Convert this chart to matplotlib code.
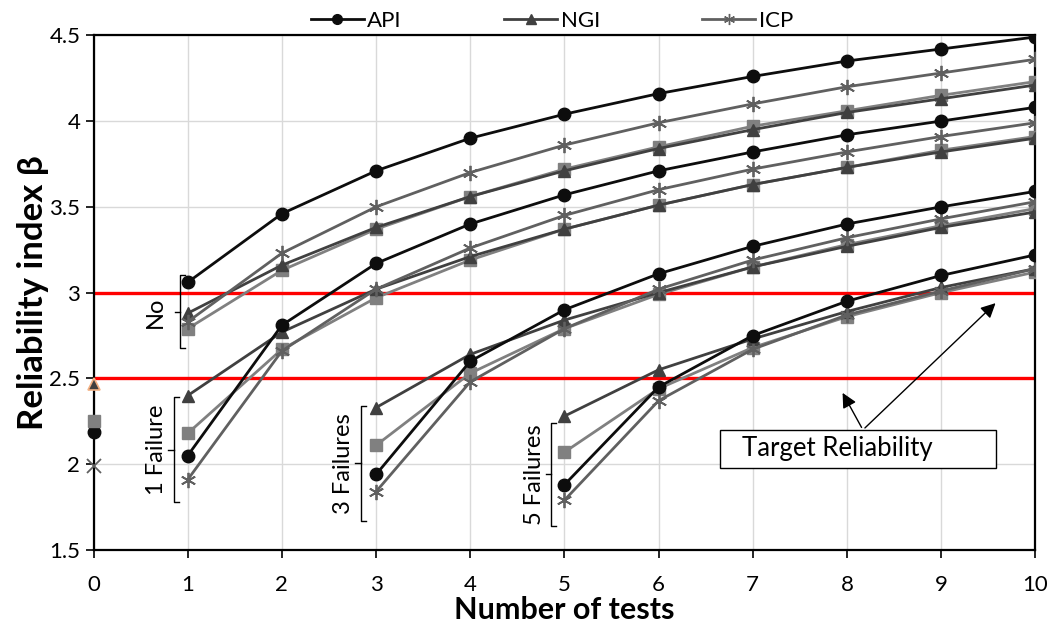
import numpy as np
import matplotlib
matplotlib.use('Agg')
import matplotlib.pyplot as plt
from matplotlib.lines import Line2D
from matplotlib.patches import Rectangle

plt.rcParams['font.family'] = ['Lato', 'DejaVu Sans']

# number of tests per group
x_none = [1, 2, 3, 4, 5, 6, 7, 8, 9, 10]
x_one = [1, 2, 3, 4, 5, 6, 7, 8, 9, 10]
x_three = [3, 4, 5, 6, 7, 8, 9, 10]
x_five = [5, 6, 7, 8, 9, 10]

# no failure
api_none = [3.06, 3.46, 3.71, 3.90, 4.04, 4.16, 4.26, 4.35, 4.42, 4.49]
ngi_none = [2.88, 3.16, 3.38, 3.56, 3.71, 3.84, 3.95, 4.05, 4.13, 4.21]
icp_none = [2.83, 3.23, 3.50, 3.70, 3.86, 3.99, 4.10, 4.20, 4.28, 4.36]
sq_none = [2.79, 3.13, 3.37, 3.56, 3.72, 3.85, 3.97, 4.06, 4.15, 4.23]

# 1 failure
api_one = [2.05, 2.81, 3.17, 3.40, 3.57, 3.71, 3.82, 3.92, 4.00, 4.08]
ngi_one = [2.40, 2.77, 3.02, 3.21, 3.37, 3.51, 3.63, 3.73, 3.82, 3.90]
icp_one = [1.91, 2.66, 3.02, 3.26, 3.45, 3.60, 3.72, 3.82, 3.91, 3.99]
sq_one = [2.18, 2.67, 2.97, 3.19, 3.37, 3.51, 3.63, 3.73, 3.83, 3.91]

# 3 failures
api_three = [1.94, 2.60, 2.90, 3.11, 3.27, 3.40, 3.50, 3.59]
ngi_three = [2.33, 2.64, 2.84, 3.00, 3.15, 3.27, 3.38, 3.47]
icp_three = [1.84, 2.48, 2.79, 3.02, 3.19, 3.32, 3.43, 3.53]
sq_three = [2.11, 2.53, 2.79, 2.99, 3.15, 3.28, 3.39, 3.49]

# 5 failures
api_five = [1.88, 2.45, 2.75, 2.95, 3.10, 3.22]
ngi_five = [2.28, 2.55, 2.73, 2.89, 3.03, 3.14]
icp_five = [1.79, 2.37, 2.67, 2.87, 3.01, 3.14]
sq_five = [2.07, 2.44, 2.68, 2.86, 3.00, 3.12]

# zero tests (prior)
zero_api = 2.19
zero_ngi = 2.47
zero_icp = 1.99
zero_sq = 2.25

targets = [3.0, 2.5]

c_api = '#0d0d0d'
c_ngi = '#404040'
c_icp = '#606060'
c_sq = '#808080'
star = (6, 2, 0)

fig = plt.figure(figsize=(10.51, 6.3), dpi=100)
ax = fig.add_axes([0.089, 0.127, 0.896, 0.817])

groups = [
    (x_none, api_none, ngi_none, icp_none, sq_none),
    (x_one, api_one, ngi_one, icp_one, sq_one),
    (x_three, api_three, ngi_three, icp_three, sq_three),
    (x_five, api_five, ngi_five, icp_five, sq_five),
]
for xs, a, n, i, s in groups:
    ax.plot(xs, s, color=c_sq, lw=2, marker='s', ms=8, zorder=3)
    ax.plot(xs, n, color=c_ngi, lw=2, marker='^', ms=8, zorder=3)
    ax.plot(xs, i, color=c_icp, lw=2, marker=star, ms=11, mew=1.3, zorder=3)
    ax.plot(xs, a, color=c_api, lw=2, marker='o', ms=9, zorder=4)

ax.plot([0], [zero_icp], color=c_icp, marker='x', ms=10, mew=1.3, ls='none', clip_on=False, zorder=5)
ax.plot([0], [zero_api], color=c_api, marker='o', ms=9, ls='none', clip_on=False, zorder=5)
ax.plot([0], [zero_sq], color=c_sq, marker='s', ms=9, ls='none', clip_on=False, zorder=5)
ax.plot([0], [zero_ngi], color=c_ngi, marker='^', ms=9, mec='#f4b183', mew=1.2,
        ls='none', clip_on=False, zorder=5)

for t in targets:
    ax.axhline(t, color='#ff0000', lw=2.4, zorder=2)

ax.set_xlim(0, 10)
ax.set_ylim(1.5, 4.5)
ax.set_xticks(range(0, 11))
ax.set_yticks(np.arange(1.5, 4.51, 0.5))
ax.set_yticklabels(['1.5', '2', '2.5', '3', '3.5', '4', '4.5'])
ax.grid(True, color='#d9d9d9', lw=1)
ax.set_axisbelow(True)
for sp in ax.spines.values():
    sp.set_linewidth(1.6)
    sp.set_color('black')
ax.tick_params(axis='both', direction='out', length=6, width=1.2, labelsize=16)
ax.tick_params(axis='x', pad=12)

ax.set_xlabel('Number of tests', fontsize=22, fontweight='bold', labelpad=1)
ax.set_ylabel('Reliability index β', fontsize=25, fontweight='bold', labelpad=0)

# brackets for groups: (x, y_top, y_bottom, label, text x)
brackets = [
    (0.92, 3.10, 2.675, 'No', 0.66),
    (0.855, 2.39, 1.78, '1 Failure', 0.67),
    (2.84, 2.34, 1.67, '3 Failures', 2.65),
    (4.86, 2.24, 1.64, '5 Failures', 4.68),
]
for bx, yt, yb, lab, tx in brackets:
    ym = (yt + yb) / 2
    ax.plot([bx + 0.05, bx, bx, bx + 0.05], [yt, yt, yb, yb], color='black', lw=1, zorder=5)
    ax.plot([bx - 0.06, bx], [ym, ym], color='black', lw=1, zorder=5)
    ax.text(tx, ym, lab, rotation=90, ha='center', va='center', fontsize=17, zorder=6)

# target reliability box and arrows
ax.add_patch(Rectangle((6.65, 1.98), 2.93, 0.22, facecolor='white', edgecolor='black',
                       lw=1, zorder=6))
ax.text(6.89, 2.09, 'Target Reliability', fontsize=18.5, va='center', ha='left', zorder=7)
for tgt in [(7.94, 2.43), (9.60, 2.95)]:
    ax.annotate('', xy=tgt, xytext=(8.17, 2.20),
                arrowprops=dict(arrowstyle='-|>', color='black', lw=1,
                                mutation_scale=22), zorder=7)

handles = [
    Line2D([], [], color=c_api, lw=2, marker='o', ms=7),
    Line2D([], [], color=c_ngi, lw=2, marker='^', ms=7),
    Line2D([], [], color=c_icp, lw=2, marker=star, ms=8, mew=1),
]
fig.legend(handles, ['API', 'NGI', 'ICP'], loc='center', bbox_to_anchor=(0.525, 0.967),
           ncol=3, frameon=False, fontsize=16, handlelength=2.4, handletextpad=0.15,
           columnspacing=4.6)

fig.savefig('out.png', dpi=100)
